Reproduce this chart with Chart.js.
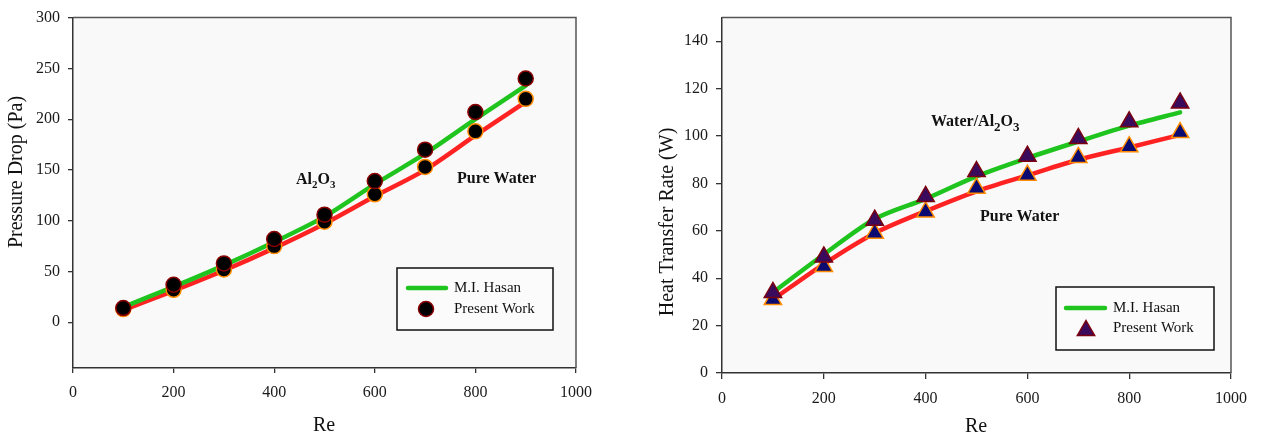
<!DOCTYPE html>
<html><head><meta charset="utf-8">
<script src="https://cdn.jsdelivr.net/npm/chart.js@4"></script>
<style>
body{margin:0;background:#fff;width:1262px;height:435px;overflow:hidden;position:relative}
canvas{position:absolute;top:0}
#c1{left:0}
#c2{left:631px}
</style></head><body>
<canvas id="c1" width="631" height="435"></canvas>
<canvas id="c2" width="631" height="435"></canvas>
<script>
// ---- data ----
const reValues = [100, 200, 300, 400, 500, 600, 700, 800, 900];
const xTicks = [0, 200, 400, 600, 800, 1000];

// Pressure drop (Pa)
const pdHasanAl2O3   = [15, 35, 56, 79, 104, 136, 166, 200, 233];
const pdHasanWater   = [12, 31, 51, 73, 97, 124, 150, 184, 217];
const pdPresentAl2O3 = [14, 37, 58, 82, 106, 139, 170, 207, 240];
const pdPresentWater = [13, 32, 52, 75, 99, 126, 153, 188, 220];
const pdTicks = [0, 50, 100, 150, 200, 250, 300];

// Heat transfer rate (W)
const htHasanAl2O3   = [34, 50, 65, 73.5, 83, 90.7, 97.7, 104.4, 110];
const htHasanWater   = [31, 46, 59, 68.3, 76.7, 83.4, 90, 95.2, 100.5];
const htPresentAl2O3 = [34, 49, 64.5, 74.5, 85, 91.5, 99, 106, 114];
const htPresentWater = [31, 45, 59, 68, 78, 83.5, 91, 95.5, 101.5];
const htTicks = [0, 20, 40, 60, 80, 100, 120, 140];

const legendLabels = ['M.I. Hasan', 'Present Work'];

// ---- styles ----
const SERIF = "'Liberation Serif', 'Times New Roman', serif";
const GREEN = '#1fc41f', RED = '#ff2222';
const toXY = arr => reValues.map((x, i) => ({x, y: arr[i]}));

function axisOpts(min, max, ticks, fitProp, fitVal, pos, tickLen) {
  return {
    type: 'linear', position: pos, min, max,
    afterBuildTicks: s => { s.ticks = ticks.map(v => ({value: v})); },
    afterFit: s => { s[fitProp] = fitVal; },
    grid: {display: true, drawOnChartArea: false, drawTicks: true, tickLength: tickLen, color: '#333', lineWidth: 1.3},
    border: {display: true, color: '#333', width: 1.5},
    ticks: {font: {family: SERIF, size: 16}, color: '#1a1a1a', padding: pos === 'bottom' ? 10 : 8,
      maxRotation: 0, autoSkip: false, callback: v => String(v)}
  };
}

function drawParts(ctx, parts, x, y) {
  let cx = x;
  for (const p of parts) {
    ctx.font = 'bold ' + p.size + 'px ' + SERIF;
    ctx.fillText(p.t, cx, y + (p.dy || 0));
    cx += ctx.measureText(p.t).width;
  }
}

function makePlugin(cfg) {
  return {
    id: 'deco',
    beforeDraw(chart) {
      const {ctx, chartArea: a} = chart;
      ctx.save();
      ctx.fillStyle = '#f9f9f9';
      ctx.fillRect(a.left, a.top, a.right - a.left, a.bottom - a.top);
      ctx.restore();
    },
    beforeDatasetsDraw(chart) {
      const {ctx, chartArea: a} = chart;
      ctx.save();
      ctx.strokeStyle = '#555';
      ctx.lineWidth = 1.5;
      ctx.beginPath();
      ctx.moveTo(a.left, a.top);
      ctx.lineTo(a.right, a.top);
      ctx.lineTo(a.right, a.bottom);
      ctx.stroke();
      ctx.restore();
    },
    afterDraw(chart) {
      const {ctx} = chart;
      ctx.save();
      ctx.fillStyle = '#111';
      // axis titles
      ctx.font = '20px ' + SERIF;
      ctx.textAlign = 'center';
      ctx.textBaseline = 'middle';
      ctx.fillText('Re', cfg.xTitle[0], cfg.xTitle[1]);
      ctx.save();
      ctx.translate(cfg.yTitle[0], cfg.yTitle[1]);
      ctx.rotate(-Math.PI / 2);
      ctx.fillText(cfg.yTitleText, 0, 0);
      ctx.restore();
      // annotations
      ctx.textAlign = 'left';
      ctx.textBaseline = 'alphabetic';
      for (const an of cfg.annotations) drawParts(ctx, an.parts, an.x, an.y);
      // legend
      const L = cfg.legend;
      ctx.fillStyle = '#fbfbfb';
      ctx.fillRect(L.x, L.y, L.w, L.h);
      ctx.strokeStyle = '#111';
      ctx.lineWidth = 1.5;
      ctx.strokeRect(L.x, L.y, L.w, L.h);
      ctx.strokeStyle = GREEN;
      ctx.lineWidth = 4.5;
      ctx.lineCap = 'round';
      ctx.beginPath();
      ctx.moveTo(L.lineX0, L.row1);
      ctx.lineTo(L.lineX1, L.row1);
      ctx.stroke();
      ctx.lineCap = 'butt';
      ctx.fillStyle = L.marker.fill;
      ctx.strokeStyle = L.marker.border;
      ctx.lineWidth = 1.5;
      ctx.beginPath();
      if (L.marker.style === 'circle') {
        ctx.arc(L.markerX, L.row2, L.marker.radius, 0, Math.PI * 2);
      } else {
        const r = L.marker.radius, cx = L.markerX, cy = L.row2 + r / 4;
        ctx.moveTo(cx, cy - r);
        ctx.lineTo(cx + Math.sin(2 * Math.PI / 3) * r, cy + r / 2);
        ctx.lineTo(cx - Math.sin(2 * Math.PI / 3) * r, cy + r / 2);
        ctx.closePath();
      }
      ctx.fill();
      ctx.stroke();
      ctx.fillStyle = '#111';
      ctx.font = '15px ' + SERIF;
      ctx.textBaseline = 'middle';
      ctx.fillText(legendLabels[0], L.textX, L.row1);
      ctx.fillText(legendLabels[1], L.textX, L.row2);
      ctx.restore();
    }
  };
}

function lineDs(data, color) {
  return {type: 'line', data: toXY(data), borderColor: color, borderWidth: 4.5, pointRadius: 0,
    tension: 0.3, fill: false, order: 1, borderCapStyle: 'round', borderJoinStyle: 'round'};
}
function pointDs(data, style, radius, fill, border) {
  return {type: 'line', data: toXY(data), showLine: false, pointStyle: style, pointRadius: radius,
    pointBackgroundColor: fill, pointBorderColor: border, pointBorderWidth: 1.5, order: 0};
}

const common = {
  responsive: false, animation: false, devicePixelRatio: 1,
  plugins: {legend: {display: false}, tooltip: {enabled: false}},
  events: []
};

// ---- left chart: pressure drop ----
new Chart(document.getElementById('c1'), {
  type: 'line',
  data: {datasets: [
    pointDs(pdPresentAl2O3, 'circle', 7.5, '#000', '#8b0000'),
    pointDs(pdPresentWater, 'circle', 7.5, '#000', '#ff8c00'),
    lineDs(pdHasanAl2O3, GREEN),
    lineDs(pdHasanWater, RED)
  ]},
  options: Object.assign({}, common, {
    layout: {padding: {left: 0, right: 55, top: 16, bottom: 0}},
    scales: {
      x: axisOpts(0, 1000, xTicks, 'height', 67, 'bottom', 5),
      y: axisOpts(-45, 300, pdTicks, 'width', 73, 'left', 5)
    }
  }),
  plugins: [makePlugin({
    xTitle: [324, 426], yTitle: [17, 172], yTitleText: 'Pressure Drop (Pa)',
    annotations: [
      {x: 296, y: 184, parts: [{t: 'Al', size: 16}, {t: '2', size: 11, dy: 4}, {t: 'O', size: 16}, {t: '3', size: 11, dy: 4}]},
      {x: 457, y: 183, parts: [{t: 'Pure Water', size: 16}]}
    ],
    legend: {x: 397, y: 268, w: 156, h: 62, lineX0: 408, lineX1: 446, row1: 288, row2: 309, markerX: 426,
      textX: 454, marker: {style: 'circle', radius: 7.5, fill: '#000', border: '#8b0000'}}
  })]
});

// ---- right chart: heat transfer rate ----
new Chart(document.getElementById('c2'), {
  type: 'line',
  data: {datasets: [
    pointDs(htPresentAl2O3, 'triangle', 10, '#3a0a5c', '#7a0010'),
    pointDs(htPresentWater, 'triangle', 10, '#0a0a70', '#ff8c00'),
    lineDs(htHasanAl2O3, GREEN),
    lineDs(htHasanWater, RED)
  ]},
  options: Object.assign({}, common, {
    layout: {padding: {left: 0, right: 31, top: 16, bottom: 0}},
    scales: {
      x: axisOpts(0, 1000, xTicks, 'height', 62, 'bottom', 6),
      y: axisOpts(0, 150, htTicks, 'width', 91, 'left', 6)
    }
  }),
  plugins: [makePlugin({
    xTitle: [345, 427], yTitle: [37, 222], yTitleText: 'Heat Transfer Rate (W)',
    annotations: [
      {x: 300, y: 126, parts: [{t: 'Water/Al', size: 16}, {t: '2', size: 13, dy: 5}, {t: 'O', size: 16}, {t: '3', size: 13, dy: 5}]},
      {x: 349, y: 221, parts: [{t: 'Pure Water', size: 16}]}
    ],
    legend: {x: 425, y: 287, w: 158, h: 63, lineX0: 435, lineX1: 474, row1: 308, row2: 328, markerX: 455,
      textX: 482, marker: {style: 'triangle', radius: 10, fill: '#3a0a5c', border: '#7a0010'}}
  })]
});
</script>
</body></html>
